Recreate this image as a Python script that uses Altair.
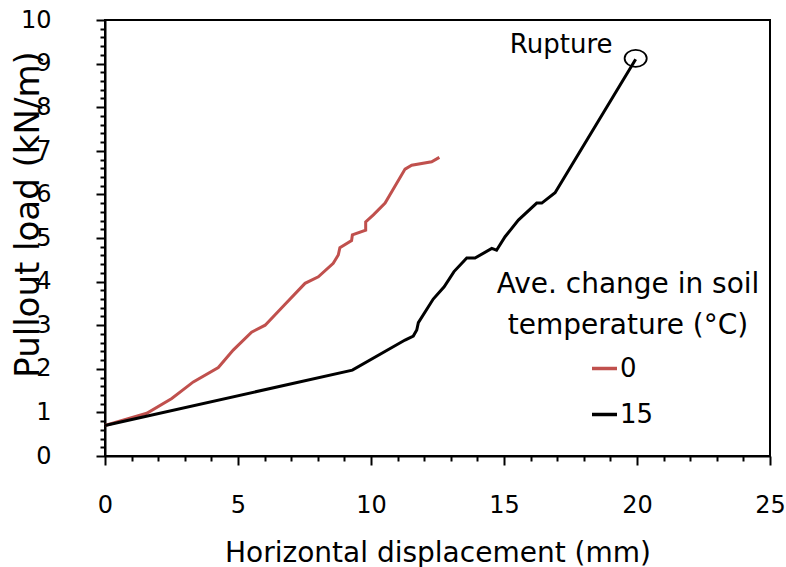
import altair as alt
import pandas as pd

# Series: average change in soil temperature 0 °C
x0 = [0, 1.57, 2.51, 3.32, 4.26, 4.82, 5.51, 6.02, 6.77, 7.52, 8.02, 8.58, 8.77, 8.83,
      9.27, 9.30, 9.80, 9.80, 10.09, 10.53, 11.28, 11.53, 12.28, 12.57]
y0 = [0.70, 0.98, 1.32, 1.70, 2.03, 2.43, 2.84, 3.00, 3.48, 3.96, 4.11, 4.42, 4.61, 4.78,
      4.94, 5.07, 5.18, 5.37, 5.53, 5.80, 6.58, 6.67, 6.75, 6.85]

# Series: average change in soil temperature 15 °C
x15 = [0, 9.30, 11.28, 11.59, 11.72, 11.78, 12.34, 12.75, 13.12, 13.60, 13.91, 14.54, 14.72,
       15.04, 15.54, 16.23, 16.42, 16.92, 19.95]
y15 = [0.70, 1.97, 2.66, 2.75, 2.89, 3.06, 3.60, 3.88, 4.23, 4.54, 4.54, 4.76, 4.72,
       5.03, 5.41, 5.80, 5.80, 6.04, 9.10]

series_names = ["0", "15"]
series_colors = ["#C0504D", "#000000"]

x_ticks = list(range(0, 26))                         # minor every 1, labelled every 5
y_ticks = [round(i * 0.2, 1) for i in range(0, 51)]  # minor every 0.2, labelled every 1

legend_title = ["Ave. change in soil", "temperature (°C)"]

rupture_x = [19.95]
rupture_y = [9.12]
rupture_label = ["Rupture"]
rupture_label_x = [17.15]
rupture_label_y = [9.43]

FONT = "DejaVu Sans"

rows = []
for xv, yv in zip(x0, y0):
    rows.append({"x": xv, "y": yv, "temp": series_names[0]})
for xv, yv in zip(x15, y15):
    rows.append({"x": xv, "y": yv, "temp": series_names[1]})
df = pd.DataFrame(rows)
df["order"] = range(len(df))

xscale = alt.Scale(domain=[0, 25], nice=False, zero=False)
yscale = alt.Scale(domain=[0, 10], nice=False, zero=False)

x_axis = alt.Axis(
    values=x_ticks, labelExpr="datum.value % 5 === 0 ? format(datum.value, 'd') : ''",
    tickSize={"condition": {"test": "datum.value % 5 === 0", "value": 9}, "value": 5},
    tickWidth=2, domainWidth=2, domainColor="black", tickColor="black",
    labelFontSize=24, labelFont=FONT, labelColor="black", labelPadding=28,
    labelFlush=False, labelOverlap=False,
    title="Horizontal displacement (mm)", titleFont=FONT, titleFontSize=28,
    titleFontWeight="normal", titleColor="black", titleBaseline="alphabetic",
    titleY=105, grid=False, orient="bottom")

y_axis = alt.Axis(
    values=y_ticks, labelExpr="datum.value % 1 === 0 ? format(datum.value, 'd') : ''",
    tickSize={"condition": {"test": "datum.value % 1 === 0", "value": 9}, "value": 5},
    tickWidth=2, domainWidth=2, domainColor="black", tickColor="black",
    labelFontSize=24, labelFont=FONT, labelColor="black", labelPadding=45,
    labelOverlap=False,
    title="Pullout load (kN/m)", titleFont=FONT, titleFontSize=34,
    titleFontWeight="normal", titleColor="black", titleAngle=270,
    titleBaseline="middle", titleAlign="center", titleX=-77, titleY=194,
    grid=False, orient="left")

X = alt.X("x:Q", scale=xscale, axis=x_axis)
Y = alt.Y("y:Q", scale=yscale, axis=y_axis)

lines = alt.Chart(df).mark_line(strokeWidth=3).encode(
    x=X, y=Y,
    color=alt.Color("temp:N",
                    scale=alt.Scale(domain=series_names, range=series_colors),
                    legend=alt.Legend(
                        title=legend_title,
                        orient="none", legendX=392, legendY=251,
                        titleFont=FONT, titleFontSize=28, titleFontWeight="normal",
                        titleColor="black", titleAlign="center", titleAnchor="middle",
                        titleLineHeight=41, titlePadding=14, titleLimit=1000,
                        labelFont=FONT, labelFontSize=26, labelColor="black",
                        symbolType="stroke", symbolSize=625, symbolStrokeWidth=3.5,
                        symbolOffset=-12, labelOffset=1, rowPadding=18)),
    order="order:Q",
)

rup_df = pd.DataFrame({"x": rupture_x, "y": rupture_y})
circle = alt.Chart(rup_df).mark_point(
    shape="M-1.3,0A1.3,1,0,1,0,1.3,0A1.3,1,0,1,0,-1.3,0Z",
    filled=False, size=290, color="black", strokeWidth=1.8, opacity=1).encode(
    x=X, y=Y)

lab_df = pd.DataFrame({"x": rupture_label_x, "y": rupture_label_y, "t": rupture_label})
label = alt.Chart(lab_df).mark_text(font=FONT, fontSize=26, color="black",
                                    align="center", baseline="middle").encode(
    x=X, y=Y, text="t:N")

chart = alt.layer(lines, circle, label).properties(
    width=665, height=436,
    background="white",
    autosize=alt.AutoSizeParams(type="none"),
    padding={"left": 105, "top": 20, "right": 16, "bottom": 111},
).configure_view(stroke="black", strokeWidth=2)

chart.save("out.html", embed_options={"renderer": "svg", "actions": False})
